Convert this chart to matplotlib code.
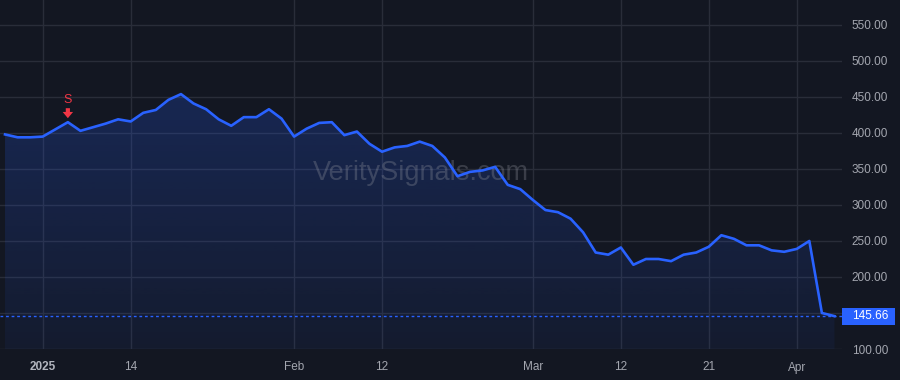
import matplotlib
matplotlib.use("Agg")
import matplotlib.pyplot as plt
import matplotlib.colors as mcolors
import matplotlib.transforms as mtransforms
from matplotlib.patches import Polygon, Rectangle
import numpy as np

# ---------------- data ----------------
dates = [
    "2024-12-27", "2024-12-30", "2024-12-31",
    "2025-01-02", "2025-01-03", "2025-01-06", "2025-01-07", "2025-01-08", "2025-01-10",
    "2025-01-13", "2025-01-14", "2025-01-15", "2025-01-16", "2025-01-17", "2025-01-21",
    "2025-01-22", "2025-01-23", "2025-01-24", "2025-01-27", "2025-01-28", "2025-01-29",
    "2025-01-30", "2025-01-31",
    "2025-02-03", "2025-02-04", "2025-02-05", "2025-02-06", "2025-02-07", "2025-02-10",
    "2025-02-11", "2025-02-12", "2025-02-13", "2025-02-14", "2025-02-18", "2025-02-19",
    "2025-02-20", "2025-02-21", "2025-02-24", "2025-02-25", "2025-02-26", "2025-02-27",
    "2025-02-28",
    "2025-03-03", "2025-03-04", "2025-03-05", "2025-03-06", "2025-03-07", "2025-03-10",
    "2025-03-11", "2025-03-12", "2025-03-13", "2025-03-14", "2025-03-17", "2025-03-18",
    "2025-03-19", "2025-03-20", "2025-03-21", "2025-03-24", "2025-03-25", "2025-03-26",
    "2025-03-27", "2025-03-28", "2025-03-31",
    "2025-04-01", "2025-04-02", "2025-04-03", "2025-04-04",
]
closes = [
    398, 394, 394,
    395, 405, 415, 403, 408, 413,
    419, 416, 428, 432, 446, 454,
    441, 433, 419, 410, 422, 422,
    433, 420,
    395, 406, 414, 415, 397, 402,
    385, 374, 380, 382, 388, 382,
    366, 340, 346, 348, 353, 328,
    322,
    307, 293, 290, 281, 262, 234,
    231, 241, 217, 225, 225, 222,
    231, 234, 242, 258, 253, 244,
    244, 237, 235,
    239, 250, 150, 145.66,
]
tick_dates = ["2025-01-02", "2025-01-14", "2025-02-03", "2025-02-12",
              "2025-03-03", "2025-03-12", "2025-03-21", "2025-04-01"]
tick_labels = ["2025", "14", "Feb", "12", "Mar", "12", "21", "Apr"]
y_ticks = [100, 150, 200, 250, 300, 350, 400, 450, 500, 550]
last_price = 145.66
signal_dates = ["2025-01-06"]
signal_labels = ["S"]
watermark = "VeritySignals.com"

# ---------------- style ----------------
BG = "#131722"
GRID = "#292d39"
BLUE = "#2962ff"
RED = "#f23645"
TXT = "#a3a6af"
FONT = "Liberation Sans"

W, H = 900, 380
fig = plt.figure(figsize=(W / 100, H / 100), dpi=100, facecolor=BG)
ax = fig.add_axes([0, 31 / H, 842 / W, 349 / H])
ax.set_facecolor(BG)
for s in ax.spines.values():
    s.set_visible(False)

x = np.arange(len(dates))
y = np.array(closes, dtype=float)
YMIN, YMAX = 100, 584.7

# grid
ax.set_yticks(y_ticks)
ax.set_xticks([dates.index(d) for d in tick_dates])
ax.grid(True, color=GRID, lw=1, zorder=0)
ax.set_axisbelow(True)

# gradient fill under the line
poly = Polygon([(x[0], YMIN)] + list(zip(x, y)) + [(x[-1], YMIN)],
               closed=True, facecolor="none", edgecolor="none")
ax.add_patch(poly)
grad = np.zeros((256, 1, 4))
grad[:, :, :3] = mcolors.to_rgb(BLUE)
grad[:, 0, 3] = np.linspace(0.06, 0.22, 256)
im = ax.imshow(grad, aspect="auto", origin="lower",
               extent=[x[0], x[-1], YMIN, y.max()], zorder=1,
               interpolation="bilinear")
im.set_clip_path(poly)

# line
ax.plot(x, y, color=BLUE, lw=1.9, zorder=3, solid_joinstyle="round")

# last price dotted line
ax.axhline(last_price, color=BLUE, lw=1, ls=(0, (2, 2)), zorder=2)

ax.set_xlim(-0.4, 66.6)
ax.set_ylim(YMIN, YMAX)

# ticks
ax.yaxis.tick_right()
ax.tick_params(axis="y", length=0, pad=7, labelcolor=TXT, labelsize=8.5)
ax.tick_params(axis="x", length=0, pad=9, labelcolor=TXT, labelsize=8.5)
ax.set_yticklabels([f"{v:.2f}" for v in y_ticks], fontfamily=FONT)
ax.set_xticklabels(tick_labels, fontfamily=FONT)
for lab in ax.get_xticklabels():
    if lab.get_text().isdigit() and len(lab.get_text()) == 4:
        lab.set_fontweight("bold")
        lab.set_color("#b2b5be")

# last price label box (17 px tall)
blend = mtransforms.blended_transform_factory(fig.transFigure, ax.transData)
box_h = 17 * (YMAX - YMIN) / 349
ax.add_patch(Rectangle((842 / W, last_price - box_h / 2), 53 / W, box_h,
                       transform=blend, facecolor=BLUE, edgecolor="none",
                       clip_on=False, zorder=5))
ax.text(852 / W, last_price, f"{last_price:.2f}", transform=blend, color="white",
        fontsize=8.5, fontfamily=FONT, va="center", ha="left", zorder=6, clip_on=False)

# signal markers
for d, lab in zip(signal_dates, signal_labels):
    i = dates.index(d)
    tip = ax.transData.transform((i, y[i])) + np.array([0, 4])
    tail = tip + np.array([0, 10])
    ax.annotate("", xy=tip, xycoords="figure pixels", xytext=tail,
                textcoords="figure pixels",
                arrowprops=dict(arrowstyle="simple,head_length=0.45,head_width=0.75,tail_width=0.3",
                                fc=RED, ec="none", mutation_scale=10,
                                shrinkA=0, shrinkB=0), zorder=6)
    ax.annotate(lab, xy=(i, y[i]), xycoords="data", xytext=(0, 22),
                textcoords="offset pixels", ha="center", va="center",
                color=RED, fontsize=9, fontfamily=FONT, zorder=6)

# watermark
ax.text(0.5, 0.504, watermark, transform=ax.transAxes, ha="center", va="center",
        fontsize=19.5, fontfamily=FONT, color="#9598a1", alpha=0.3, zorder=2)

fig.savefig("out.png", dpi=100, facecolor=BG)
